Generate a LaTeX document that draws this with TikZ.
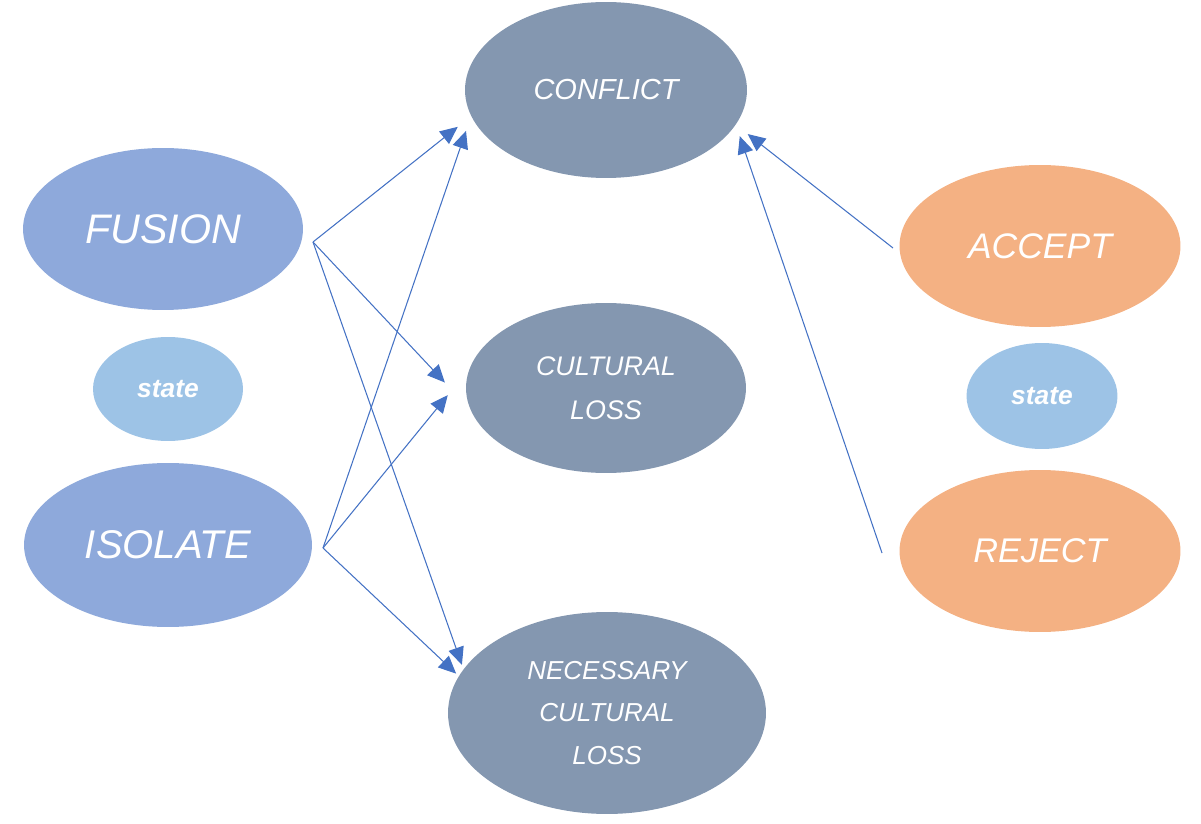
\documentclass[tikz,border=0pt]{standalone}
\usepackage{fontspec}
\setmainfont{Liberation Sans}
\usetikzlibrary{arrows.meta}
\usetikzlibrary{shapes.geometric}

\definecolor{slate}{HTML}{8497B0}
\definecolor{lilac}{HTML}{8EA9DB}
\definecolor{sky}{HTML}{9DC3E6}
\definecolor{peach}{HTML}{F4B183}
\definecolor{linkblue}{HTML}{4472C4}

\begin{document}
\begin{tikzpicture} [x=.02cm, y=-.02cm, oval/.style={ellipse, inner sep=0, text=white, align=center}, link/.style={draw=linkblue, line width=.6pt, -{Triangle[length=10pt,width=9pt]}}]
\useasboundingbox (0,0) rectangle (1201,824);

\node[oval, fill=slate, minimum width=5.64cm, minimum height=3.52cm, font=\itshape\fontsize{16.5}{20}\selectfont] (conflict) at (606,90) {CONFLICT};
\node[oval, fill=slate, minimum width=5.6cm, minimum height=3.4cm, font=\itshape\fontsize{15.3}{25}\selectfont] (loss) at (606,388) {CULTURAL\\LOSS};
\node[oval, fill=slate, minimum width=6.36cm, minimum height=4.04cm, font=\itshape\fontsize{14.8}{24}\selectfont] (necessary) at (607,713) {NECESSARY\\CULTURAL\\LOSS};

\node[oval, fill=lilac, minimum width=5.6cm, minimum height=3.24cm, font=\itshape\fontsize{23.5}{28}\selectfont] (fusion) at (163,229) {FUSION};
\node[oval, fill=sky, minimum width=3cm, minimum height=2.08cm, font=\bfseries\itshape\fontsize{15}{18}\selectfont] (stateL) at (168,389) {state};
\node[oval, fill=lilac, minimum width=5.76cm, minimum height=3.28cm, font=\itshape\fontsize{22.8}{27}\selectfont] (isolate) at (168,545) {ISOLATE};

\node[oval, fill=peach, minimum width=5.62cm, minimum height=3.24cm, font=\itshape\fontsize{20.2}{24}\selectfont] (accept) at (1040,246) {ACCEPT};
\node[oval, fill=sky, minimum width=3.02cm, minimum height=2.12cm, font=\bfseries\itshape\fontsize{15}{18}\selectfont] (stateR) at (1042,396) {state};
\node[oval, fill=peach, minimum width=5.62cm, minimum height=3.24cm, font=\itshape\fontsize{19.5}{24}\selectfont] (reject) at (1040,551) {REJECT};

\coordinate (fs) at (313,242);
\coordinate (is) at (323,548);
\coordinate (as) at (893,248);
\coordinate (rs) at (882,553);

\draw[link, shorten >=.34cm] (fs) -- (conflict.191);
\draw[link, shorten >=.74cm] (fs) -- (loss.189);
\draw[link, shorten >=.09cm] (fs) -- (necessary.163);

\draw[link, shorten >=.31cm] (is) -- (conflict.191);
\draw[link, shorten >=.68cm] (is) -- (loss.172);
\draw[link, shorten >=.07cm] (is) -- (necessary.166);

\draw[link, shorten >=.3cm] (as) -- (conflict.345);
\draw[link, shorten >=.24cm] (rs) -- (conflict.345);

\end{tikzpicture}
\end{document}
